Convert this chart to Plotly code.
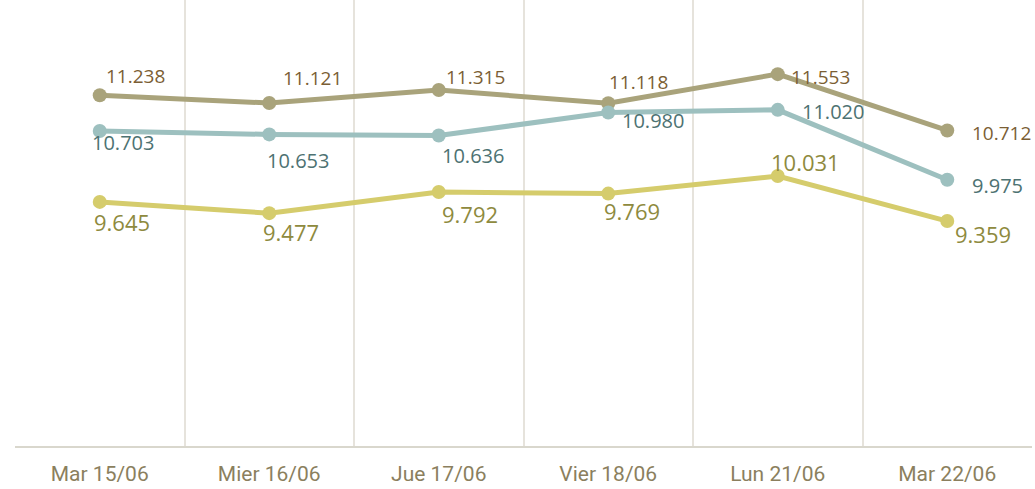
import plotly.graph_objects as go

categories = ["Mar 15/06", "Mier 16/06", "Jue 17/06", "Vier 18/06", "Lun 21/06", "Mar 22/06"]
serie_a = [11.238, 11.121, 11.315, 11.118, 11.553, 10.712]
serie_b = [10.703, 10.653, 10.636, 10.980, 11.020, 9.975]
serie_c = [9.645, 9.477, 9.792, 9.769, 10.031, 9.359]

labels_a = ["11.238", "11.121", "11.315", "11.118", "11.553", "10.712"]
labels_b = ["10.703", "10.653", "10.636", "10.980", "11.020", "9.975"]
labels_c = ["9.645", "9.477", "9.792", "9.769", "10.031", "9.359"]

# label offsets in pixels (style)
off_a = [(36, 19), (43, 25), (37, 13), (30, 21), (43, -3), (54, -3)]
off_b = [(23, -11), (29, -26), (34, -20), (45, -8), (55, -2), (50, -6)]
off_c = [(22, -20), (22, -19), (31, -22), (24, -17), (28, 14), (36, -13)]

series = [
    ("Serie A", serie_a, labels_a, off_a, "#A9A37B", "#7B5E34", 19),
    ("Serie B", serie_b, labels_b, off_b, "#9DC0BF", "#4D7272", 20),
    ("Serie C", serie_c, labels_c, off_c, "#D5CC6C", "#8E8A3E", 22),
]

xs = list(range(len(categories)))
fig = go.Figure()
annotations = []
for name, vals, labs, offs, lc, tc, fs in series:
    fig.add_trace(go.Scatter(
        x=xs, y=vals, mode="lines+markers", name=name,
        line=dict(color=lc, width=5),
        marker=dict(color=lc, size=14),
        hoverinfo="y",
    ))
    for x, v, lab, (dx, dy) in zip(xs, vals, labs, offs):
        annotations.append(dict(
            x=x, y=v, xref="x", yref="y", text=lab, showarrow=False,
            xshift=dx, yshift=dy, xanchor="center", yanchor="middle",
            font=dict(family="Open Sans, sans-serif", size=fs, color=tc),
        ))

grid_positions = [i - 0.5 for i in range(len(categories) + 1)]

fig.update_layout(
    width=1035, height=489,
    margin=dict(l=15, r=3, t=0, b=43),
    paper_bgcolor="white", plot_bgcolor="white",
    showlegend=False,
    annotations=annotations,
    xaxis=dict(
        range=[-0.5, len(categories) - 0.5],
        tickmode="array", tickvals=xs, ticktext=categories,
        showgrid=False, zeroline=False,
        showline=True, linecolor="#D9D7CD", linewidth=2,
        ticks="outside", ticklen=8, tickcolor="rgba(0,0,0,0)",
        tickfont=dict(family="Liberation Sans Narrow, Roboto, sans-serif", size=21, color="#8B7F5E"),
        minor=dict(tickmode="array", tickvals=grid_positions, showgrid=True,
                   gridcolor="#E6E3DC", gridwidth=1.5, ticks=""),
    ),
    yaxis=dict(
        range=[6.0, 12.66], showgrid=False, zeroline=False,
        showticklabels=False, showline=False,
    ),
)

fig.write_html("out.html", config={"displayModeBar": False},
               post_script="document.body.style.margin='0';")
